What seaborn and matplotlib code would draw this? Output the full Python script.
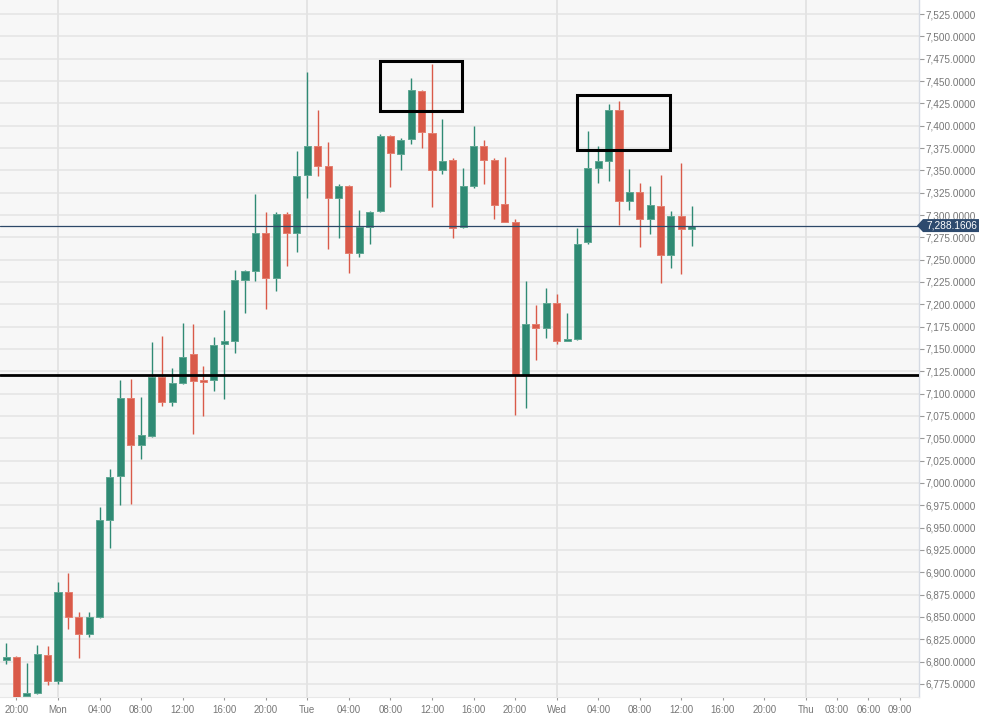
import numpy as np
import pandas as pd
import matplotlib
matplotlib.use("Agg")
import matplotlib.pyplot as plt
import matplotlib.transforms as mtransforms
from matplotlib.patches import Rectangle, Polygon
from matplotlib.ticker import FuncFormatter, FixedLocator
import seaborn as sns

# ---- data: hourly candles, x = hours from Monday 00:00 ----
hours = list(range(-5, 62))
opens = [6802, 6805, 6761, 6765, 6807, 6778, 6878, 6850, 6831, 6850,
         6959, 7008, 7095, 7042, 7053, 7119, 7091, 7112, 7144, 7115,
         7115, 7156, 7159, 7227, 7237, 7280, 7230, 7301, 7280, 7345,
         7377, 7355, 7319, 7333, 7257, 7287, 7304, 7388, 7368, 7385,
         7439, 7392, 7350, 7362, 7287, 7332, 7377, 7362, 7312, 7292,
         7121, 7178, 7173, 7202, 7159, 7161, 7270, 7353, 7360, 7418,
         7316, 7326, 7295, 7310, 7255, 7299, 7284]
highs = [6821, 6806, 6799, 6819, 6817, 6889, 6899, 6856, 6856, 6973,
         7016, 7115, 7116, 7096, 7158, 7164, 7129, 7179, 7178, 7131,
         7163, 7194, 7238, 7238, 7323, 7303, 7303, 7303, 7372, 7460,
         7418, 7382, 7335, 7334, 7306, 7304, 7391, 7390, 7386, 7453,
         7440, 7469, 7408, 7364, 7353, 7400, 7384, 7364, 7365, 7295,
         7226, 7199, 7218, 7212, 7190, 7286, 7394, 7377, 7424, 7428,
         7352, 7336, 7332, 7345, 7305, 7358, 7310]
lows = [6797, 6755, 6759, 6764, 6774, 6775, 6836, 6804, 6828, 6849,
        6927, 6975, 6977, 7027, 7052, 7086, 7086, 7111, 7055, 7075,
        7103, 7094, 7146, 7190, 7226, 7195, 7215, 7243, 7259, 7319,
        7344, 7262, 7274, 7235, 7253, 7268, 7303, 7331, 7350, 7380,
        7375, 7309, 7346, 7274, 7286, 7330, 7335, 7296, 7292, 7076,
        7084, 7138, 7162, 7156, 7159, 7160, 7267, 7336, 7338, 7289,
        7306, 7264, 7279, 7224, 7241, 7234, 7265]
closes = [6805, 6758, 6765, 6808, 6778, 6878, 6850, 6831, 6850, 6959,
          7007, 7095, 7042, 7054, 7119, 7091, 7112, 7141, 7114, 7113,
          7154, 7159, 7227, 7237, 7280, 7230, 7301, 7280, 7344, 7377,
          7355, 7319, 7333, 7257, 7287, 7303, 7388, 7369, 7384, 7440,
          7393, 7350, 7361, 7285, 7332, 7377, 7362, 7311, 7292, 7121,
          7178, 7173, 7202, 7159, 7161, 7268, 7353, 7360, 7418, 7316,
          7326, 7295, 7311, 7255, 7299, 7284, 7288.1606]

tick_hours = [-4, 0, 4, 8, 12, 16, 20, 24, 28, 32, 36, 40, 44, 48,
              52, 56, 60, 64, 68, 72, 75, 78, 81]
tick_labels = ["20:00", "Mon", "04:00", "08:00", "12:00", "16:00", "20:00",
               "Tue", "04:00", "08:00", "12:00", "16:00", "20:00",
               "Wed", "04:00", "08:00", "12:00", "16:00", "20:00",
               "Thu", "03:00", "06:00", "09:00"]
day_hours = [0, 24, 48, 72]
y_ticks = list(range(6775, 7526, 25))

support_level = 7121
box_x = [31.0, 50.0]
box_w = [7.9, 8.9]
box_y = [7416.4, 7372.8]
box_h = [56.0, 61.5]

df = pd.DataFrame({"hour": hours, "open": opens, "high": highs,
                   "low": lows, "close": closes})

# ---- style ----
sns.set_theme(style="white")
plt.rcParams["font.family"] = ["Liberation Sans", "DejaVu Sans"]

GREEN, GREEN_E = "#2f8a74", "#5fa792"
RED, RED_E = "#d95a49", "#e37e6f"

fig = plt.figure(figsize=(10.05, 7.18), dpi=100)
ax = fig.add_axes([0, 21 / 718, 919 / 1005, 697 / 718])
ax.set_facecolor("#f7f7f7")

ax.set_xlim(-5.583, 82.876)
ax.set_ylim(6760.4, 7540.7)

# grid
for yv in y_ticks:
    ax.axhline(yv, color="#e6e6e6", lw=1.2, zorder=0)
for d in day_hours:
    ax.axvline(d, color="#e3e3e3", lw=1.3, zorder=0)

up = df["close"] >= df["open"]
cols = np.where(up, GREEN, RED)
ecols = np.where(up, GREEN_E, RED_E)
bottoms = np.minimum(df["open"], df["close"])
heights = np.maximum(np.abs(df["close"] - df["open"]), 1.6)

ax.vlines(df["hour"], df["low"], df["high"], colors=cols, lw=1.0, zorder=2)
ax.bar(df["hour"], heights, bottom=bottoms, width=0.68, color=cols,
       edgecolor=ecols, linewidth=0.7, zorder=3)

# last price line
last = closes[-1]
ax.axhline(last, color="#2d4868", lw=0.9, zorder=4)

# support line and boxes
ax.axhline(support_level, color="black", lw=2.0, zorder=5)
for bx, bw, by, bh in zip(box_x, box_w, box_y, box_h):
    ax.add_patch(Rectangle((bx, by), bw, bh, fill=False, ec="black",
                           lw=2.2, zorder=5))

# axes styling
for s in ["top", "left"]:
    ax.spines[s].set_visible(False)
ax.spines["right"].set_color("#d5dae3")
ax.spines["right"].set_linewidth(1.0)
ax.spines["bottom"].set_color("#e8e8e8")
ax.spines["bottom"].set_linewidth(0.8)

ax.yaxis.tick_right()
ax.yaxis.set_major_locator(FixedLocator(y_ticks))
ax.yaxis.set_major_formatter(FuncFormatter(lambda v, p: f"{v:,.4f}"))
ax.tick_params(axis="y", right=True, left=False, length=3.5, width=0.8,
               color="#9a9a9a", labelsize=7.2, labelcolor="#777777", pad=1.5)

ax.set_xticks(tick_hours)
ax.set_xticklabels(tick_labels)
ax.tick_params(axis="x", bottom=True, length=2.5, width=0.8,
               color="#9a9a9a", labelsize=7.0, labelcolor="#777777", pad=3)
ax.set_xlabel("")
ax.set_ylabel("")

# last price tag (pentagon pointing left)
fig.canvas.draw()
anchor = ax.transData.transform((0, last))
x_edge = ax.transAxes.transform((1, 0))[0]
yc = anchor[1]
verts = [(x_edge - 2, yc), (x_edge + 4, yc + 6.5), (x_edge + 60, yc + 6.5),
         (x_edge + 60, yc - 6.5), (x_edge + 4, yc - 6.5)]
tag = Polygon(verts, closed=True, fc="#2d4a6e", ec="none",
              transform=mtransforms.IdentityTransform(), zorder=10)
fig.add_artist(tag)
fig.text((x_edge + 33) / fig.bbox.width, yc / fig.bbox.height,
         f"{last:,.4f}", color="white", fontsize=7.3, ha="center",
         va="center", zorder=11)

fig.savefig("out.png", dpi=100, facecolor="white")
